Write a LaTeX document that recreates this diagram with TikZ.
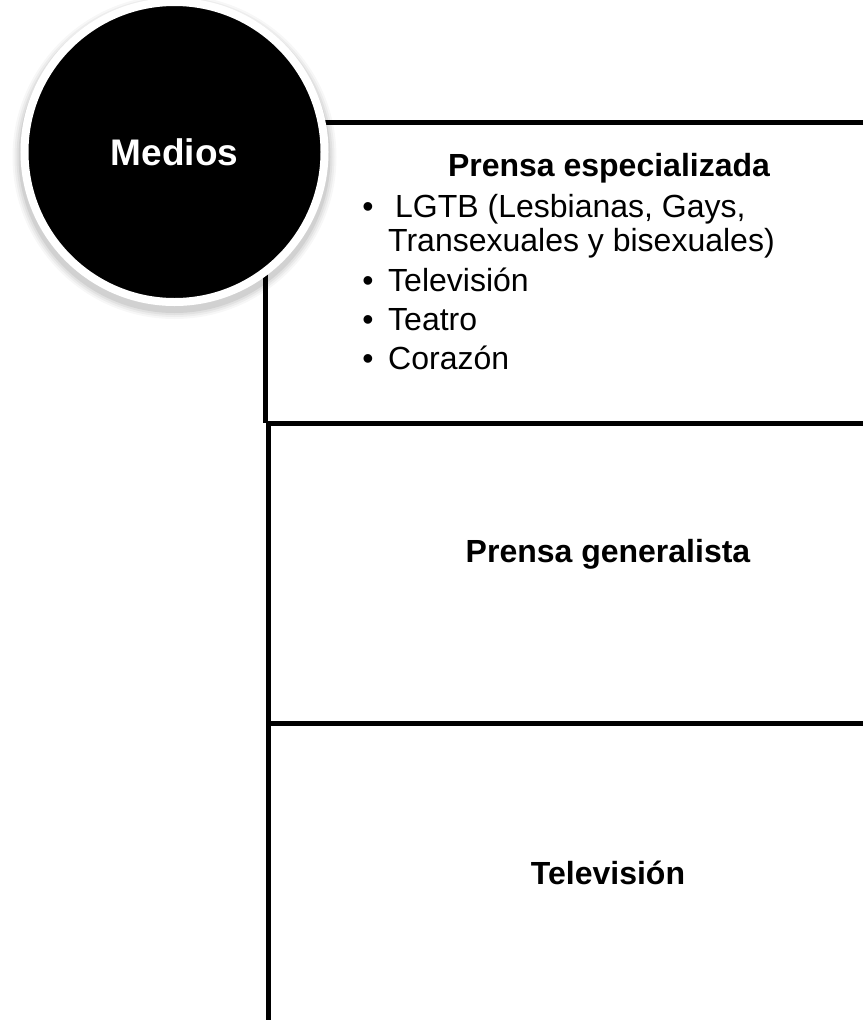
\documentclass[tikz,border=0pt]{standalone}
\usepackage{fontspec}
\setmainfont{Liberation Sans}
\begin{document}
\begin{tikzpicture}[x=1pt,y=-1pt,
  rule/.style={line width=5pt, draw=black},
  heading/.style={font=\bfseries\fontsize{32}{38}\selectfont, anchor=base, inner sep=0pt},
  item/.style={font=\fontsize{32}{38}\selectfont, anchor=base west, inner sep=0pt},
  bul/.style={font=\fontsize{32}{38}\selectfont, anchor=base, inner sep=0pt}]
\useasboundingbox (0,0) rectangle (863,1020);
% frame lines
\coordinate (tr) at (863,122.5);
\coordinate (tl) at (265.5,122.5);
\coordinate (ml) at (265.5,423);
\coordinate (mr) at (863,423);
\coordinate (vl) at (268,423);
\coordinate (vb) at (268,1020);
\coordinate (ll) at (268,723.5);
\coordinate (lr) at (863,723.5);
\draw[rule] (tr) -- (tl) -- (ml);
\draw[rule] (ml) -- (mr);
\draw[rule] (vl) -- (vb);
\draw[rule] (ll) -- (lr);
% shadow of circle
\foreach \r/\o in {162/0.03,160/0.04,158/0.05,156/0.07} {
  \fill[black, opacity=\o] (174.5,157) circle[radius=\r];
}
\node[circle, fill=black, draw=white, line width=8pt, minimum size=300pt, inner sep=0pt,
      text=white, font=\bfseries\fontsize{37}{44}\selectfont] (medios) at (174.5,152) {Medios};
% texts
\node[heading] (h1) at (609,176) {Prensa especializada};
\node[bul] (b1) at (368,217) {•};
\node[item] (i1a) at (395,217) {LGTB (Lesbianas, Gays,};
\node[item] (i1b) at (388,251) {Transexuales y bisexuales)};
\node[bul] (b2) at (368,291) {•};
\node[item] (i2) at (388,291) {Televisión};
\node[bul] (b3) at (368,330) {•};
\node[item] (i3) at (388,330) {Teatro};
\node[bul] (b4) at (368,369) {•};
\node[item] (i4) at (388,369) {Corazón};
\node[heading] (h2) at (608,562) {Prensa generalista};
\node[heading] (h3) at (608,884) {Televisión};
\end{tikzpicture}
\end{document}
